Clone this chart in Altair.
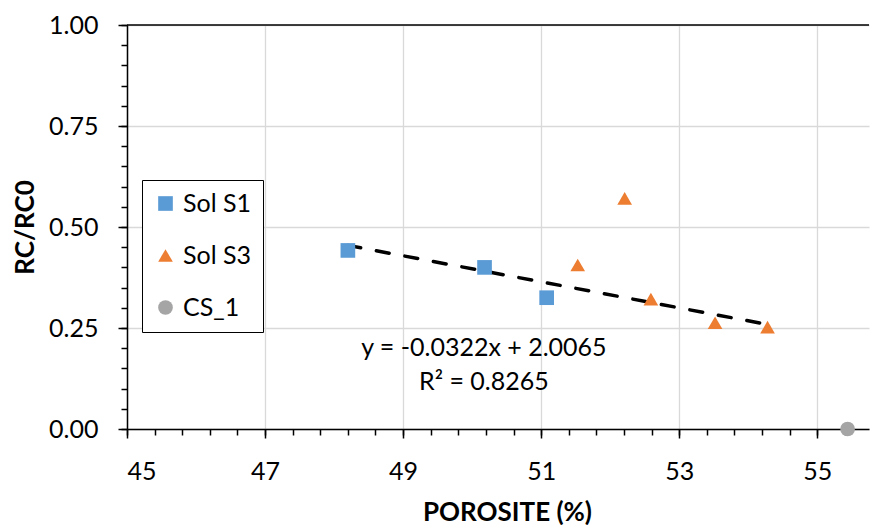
import altair as alt
import pandas as pd

# ---------------- data ----------------
series_names = ["Sol S1", "Sol S3", "CS_1"]
series_colors = ["#5B9BD5", "#ED7D31", "#A5A5A5"]
series_shapes = ["square", "triangle-up", "circle"]

s1_x = [48.20, 50.18, 51.08]
s1_y = [0.442, 0.400, 0.325]
s3_x = [51.53, 52.21, 52.59, 53.52, 54.28]
s3_y = [0.406, 0.571, 0.3215, 0.263, 0.252]
cs_x = [55.44]
cs_y = [0.0]

trend_x = [48.20, 54.28]
trend_slope = -0.0322
trend_intercept = 2.0065
eq_lines = ["y = -0.0322x + 2.0065", "R² = 0.8265"]
eq_pos = (50.17, 0.20)

x_major = [45, 47, 49, 51, 53, 55]
y_major = [0.0, 0.25, 0.50, 0.75, 1.00]
x_minor = [round(45 + 0.4 * i, 2) for i in range(27)]
y_minor = [round(0.05 * i, 2) for i in range(21)]

FONT = "Lato"

rows = []
for name, xs, ys in [("Sol S1", s1_x, s1_y), ("Sol S3", s3_x, s3_y), ("CS_1", cs_x, cs_y)]:
    for a, b in zip(xs, ys):
        rows.append({"x": a, "y": b, "series": name})
df = pd.DataFrame(rows)

trend_df = pd.DataFrame({"x": trend_x, "y": [trend_intercept + trend_slope * v for v in trend_x]})
one_row = pd.DataFrame({"k": [0]})

x_scale = alt.Scale(domain=[45, 55.75], nice=False, zero=False)
y_scale = alt.Scale(domain=[0, 1], nice=False, zero=False)

legend = alt.Legend(
    title=None, orient="none", legendX=15, legendY=155,
    labelFont=FONT, labelFontSize=25, labelColor="black",
    symbolSize=215, symbolStrokeWidth=0, symbolOpacity=1,
    rowPadding=26, padding=11, labelOffset=5,
    strokeColor="black", fillColor="white",
)

main_x_axis = alt.Axis(
    values=x_major, format="d", title="POROSITE (%)", orient="bottom",
    grid=True, gridColor="#D9D9D9", gridWidth=1.3,
    domainColor="black", domainWidth=1.5, tickColor="black", tickWidth=1.5, tickSize=9,
    labelFont=FONT, labelFontSize=25, labelColor="black", labelPadding=21,
    titleFont=FONT, titleFontSize=26, titleFontWeight="bold", titleColor="black",
    titleX=380, titlePadding=15,
)
main_y_axis = alt.Axis(
    values=y_major, format=".2f", title="RC/RC0", orient="left",
    grid=True, gridColor="#D9D9D9", gridWidth=1.3,
    domainColor="black", domainWidth=1.5, tickColor="black", tickWidth=1.5, tickSize=9,
    labelFont=FONT, labelFontSize=25, labelColor="black", labelPadding=20,
    titleFont=FONT, titleFontSize=26, titleFontWeight="bold", titleColor="black",
    titlePadding=10,
)
minor_x_axis = alt.Axis(values=x_minor, labels=False, domain=False, grid=False, title=None,
                        orient="bottom", tickColor="black", tickWidth=1.5, tickSize=6)
minor_y_axis = alt.Axis(values=y_minor, labels=False, domain=False, grid=False, title=None,
                        orient="left", tickColor="black", tickWidth=1.5, tickSize=6)

minor = alt.Chart(df).mark_point(opacity=0).encode(
    x=alt.X("x:Q", scale=x_scale, axis=minor_x_axis),
    y=alt.Y("y:Q", scale=y_scale, axis=minor_y_axis),
)

top_rule = alt.Chart(one_row).mark_rule(color="black", strokeWidth=1.5).encode(
    y=alt.datum(1.0, scale=y_scale, axis=None)
)

trend = alt.Chart(trend_df).mark_line(
    color="black", strokeWidth=3.5, strokeDash=[13, 16], strokeCap="round"
).encode(
    x=alt.X("x:Q", scale=x_scale, axis=None),
    y=alt.Y("y:Q", scale=y_scale, axis=None),
)

points = alt.Chart(df).mark_point(filled=True, size=215, opacity=1, strokeWidth=0).encode(
    x=alt.X("x:Q", scale=x_scale, axis=main_x_axis),
    y=alt.Y("y:Q", scale=y_scale, axis=main_y_axis),
    color=alt.Color("series:N", scale=alt.Scale(domain=series_names, range=series_colors), legend=legend),
    shape=alt.Shape("series:N", scale=alt.Scale(domain=series_names, range=series_shapes), legend=legend),
)

eq = alt.Chart(one_row).mark_text(
    font=FONT, fontSize=25, color="black", align="center", baseline="middle",
    lineBreak="\n", lineHeight=34,
).encode(
    x=alt.datum(eq_pos[0], scale=x_scale, axis=None),
    y=alt.datum(eq_pos[1], scale=y_scale, axis=None),
    text=alt.value("\n".join(eq_lines)),
)

chart = alt.layer(top_rule, trend, points, minor, eq).resolve_axis(
    x="independent", y="independent"
).properties(
    width=742, height=404, background="white",
    padding={"left": 4, "top": 5, "right": 0, "bottom": 0},
).configure_view(stroke=None)

chart.save("out.html", embed_options={"renderer": "svg", "actions": False})
